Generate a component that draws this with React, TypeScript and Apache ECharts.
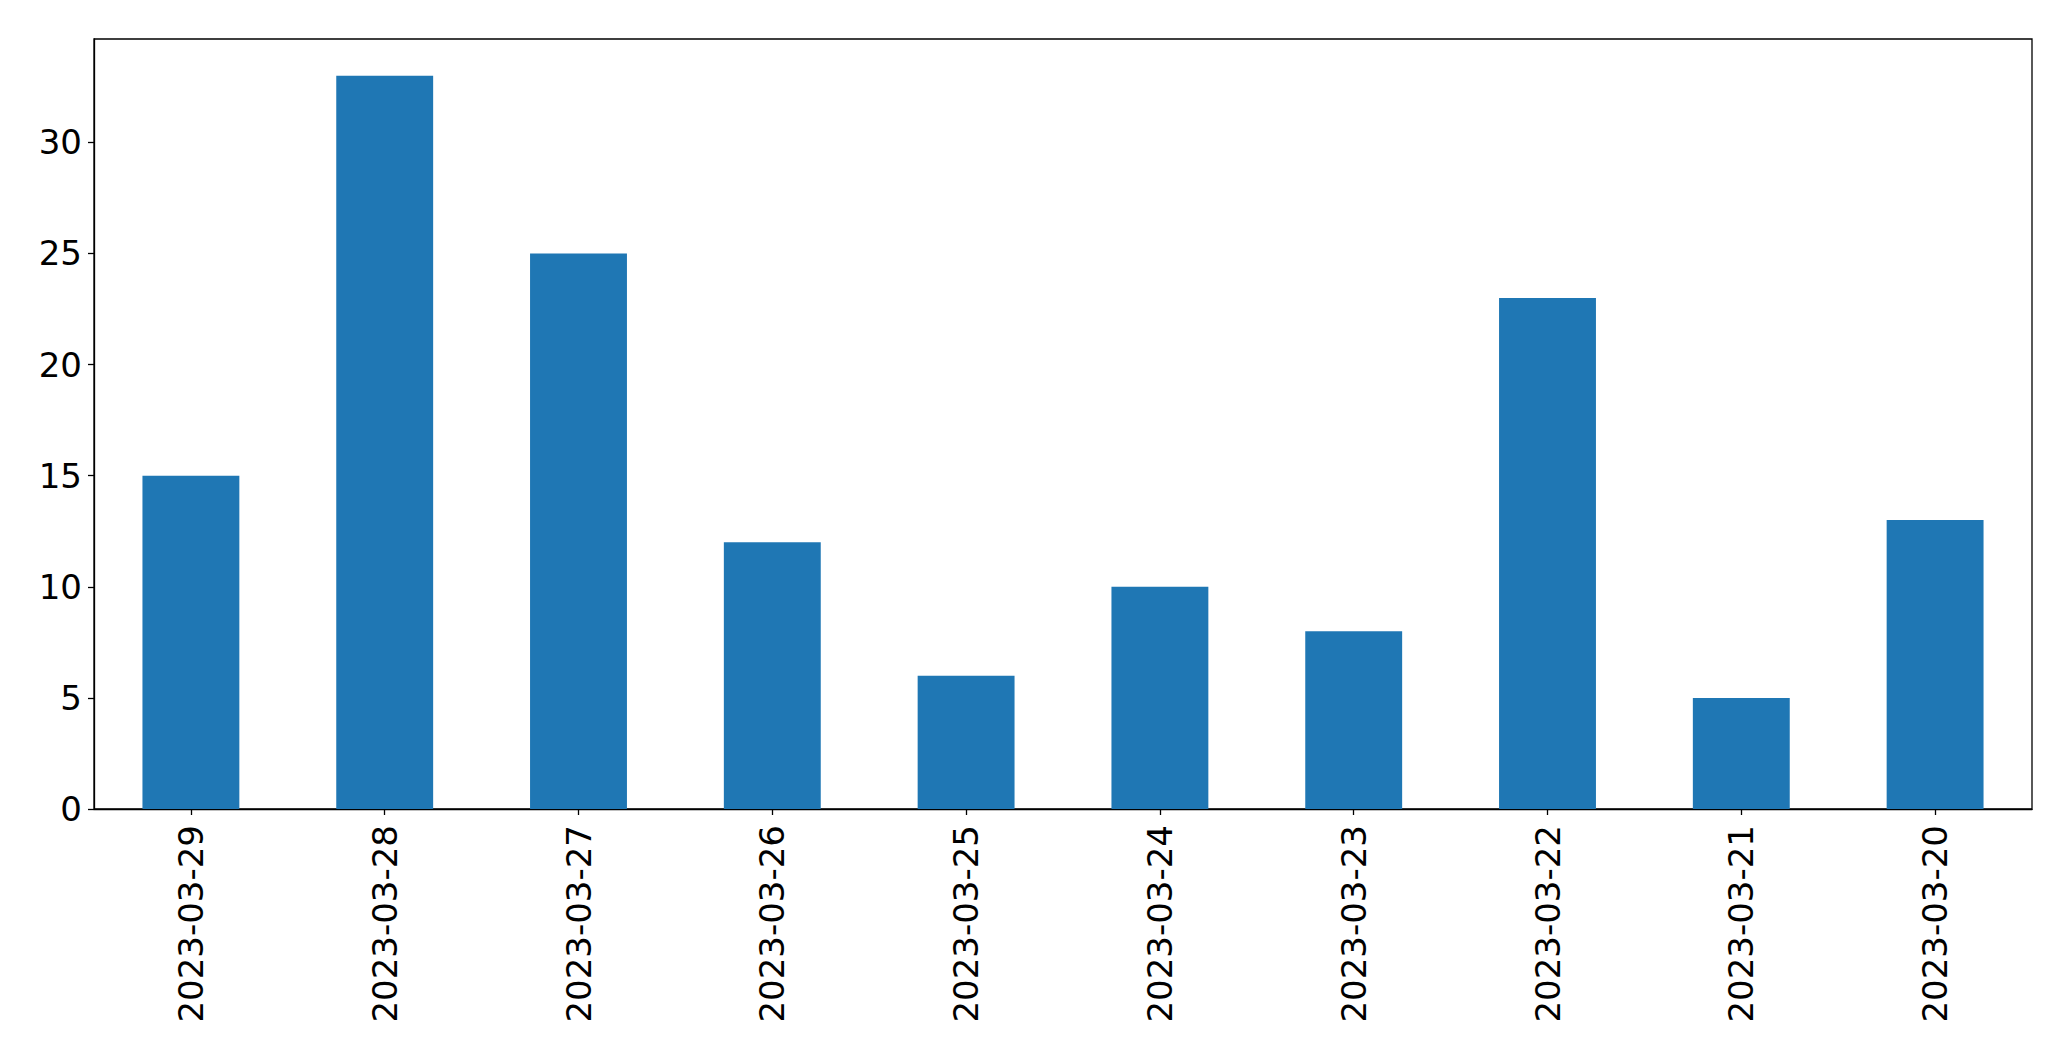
import React, { useEffect, useRef } from "react";
import * as echarts from "echarts";

const categories = [
  "2023-03-29",
  "2023-03-28",
  "2023-03-27",
  "2023-03-26",
  "2023-03-25",
  "2023-03-24",
  "2023-03-23",
  "2023-03-22",
  "2023-03-21",
  "2023-03-20",
];
const values = [15, 33, 25, 12, 6, 10, 8, 23, 5, 13];
const yMax = 34.65;

export default function App() {
  const ref = useRef<HTMLDivElement>(null);
  useEffect(() => {
    if (!ref.current) return;
    const chart = echarts.init(ref.current, undefined, { renderer: "svg" });
    const font = "DejaVu Sans";
    chart.setOption({
      animation: false,
      backgroundColor: "#ffffff",
      grid: {
        left: 94,
        right: 39,
        top: 39,
        bottom: 252,
        show: true,
        borderColor: "#000000",
        borderWidth: 1.3,
        containLabel: false,
      },
      xAxis: {
        type: "category",
        data: categories,
        boundaryGap: true,
        axisLine: { show: true, lineStyle: { color: "#000000", width: 1.3 } },
        axisTick: { show: true, alignWithLabel: true, length: 6, lineStyle: { color: "#000000", width: 1.3 } },
        axisLabel: {
          rotate: 90,
          margin: 16,
          fontFamily: font,
          fontSize: 34,
          color: "#000000",
          interval: 0,
        },
        splitLine: { show: false },
      },
      yAxis: {
        type: "value",
        min: 0,
        max: yMax,
        interval: 5,
        axisLine: { show: true, lineStyle: { color: "#000000", width: 1.3 } },
        axisTick: { show: true, length: 6, lineStyle: { color: "#000000", width: 1.3 } },
        axisLabel: {
          margin: 12,
          fontFamily: font,
          fontSize: 34,
          color: "#000000",
          showMaxLabel: false,
        },
        splitLine: { show: false },
      },
      series: [
        {
          type: "bar",
          data: values,
          barWidth: "50%",
          itemStyle: { color: "#1f77b4" },
        },
      ],
    });
    return () => chart.dispose();
  }, []);
  return (
    <div
      ref={ref}
      style={{ position: "fixed", left: 0, top: 0, width: 2071, height: 1061 }}
    />
  );
}
